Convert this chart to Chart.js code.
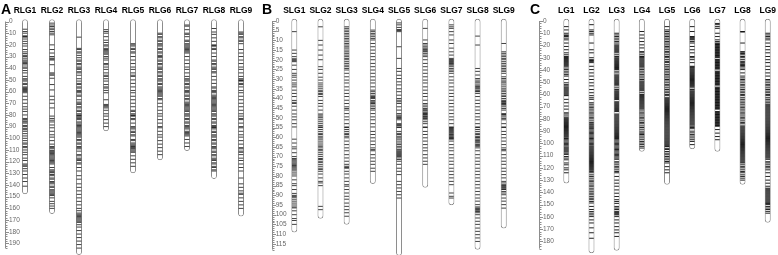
<!DOCTYPE html>
<html>
<head>
<meta charset="utf-8">
<script src="https://cdn.jsdelivr.net/npm/chart.js@4.4.1/dist/chart.umd.min.js"></script>
<style>
  html, body { margin: 0; padding: 0; background: #fff; }
  #wrap { position: relative; width: 778px; height: 255px; overflow: hidden; font-family: "Liberation Sans", Arial, sans-serif; }
  #wrap canvas { position: absolute; top: 0; }
  .tag { position: absolute; top: 2px; font-size: 14px; line-height: 14px; font-weight: bold; color: #000; }
</style>
</head>
<body>
<div id="wrap">
  <canvas id="chartA" width="255" height="255" style="left:0"></canvas>
  <canvas id="chartB" width="260" height="255" style="left:255px"></canvas>
  <canvas id="chartC" width="263" height="255" style="left:515px"></canvas>
  <div class="tag" style="left:1px">A</div>
  <div class="tag" style="left:262px">B</div>
  <div class="tag" style="left:530px">C</div>
</div>
<script>
// ====== data (cM) ======
const rlgNames = ['RLG1','RLG2','RLG3','RLG4','RLG5','RLG6','RLG7','RLG8','RLG9'];
const rlgLengths = [146, 163, 198, 92, 128, 117, 109, 133, 165];
const rlgTicks = [0,10,20,30,40,50,60,70,80,90,100,110,120,130,140,150,160,170,180,190];
const rlgMarkers = [
  [6.6,8.6,10,12.3,12.8,13.4,15,17,19,21,24,26,27.5,29,30,31.4,33,34,35.2,36,37.2,39,40,42,44,47,49,50,51,53,54,56,56.8,57.5,58.3,59,60,61,64,67,70,73,75,77,80,83,84,85.2,86,87,89,90,91.5,92.6,94,96,98,100,102,104,105,107,108,110,112,114,117,119,122,123,124,126,128,131,134,137,141],
  [1.4,3,4.3,5.7,7,8.6,10,11.4,20,24,27,30,31.4,32.2,33,37,44,45,46,48.6,54,58.6,64,67,70,74,81,83,84.5,86,88.6,91,94,97,99,102,105,107,108,109,110.5,111.5,112,113,114,115,116,117,118,119,120,121,122,125,127,128,128.8,129.5,131,132,134,135,137,138,139,141,142,144,145,146,147,148,149,151,154,156,158,160],
  [13.4,23,24,26,27,29,31,33,34,36,37,39,40,41,43,44,46,49,51,53,54,56,57,59,60,61,63,64,67,69,70,71,73,74,76,77,79,80,80.6,81,82,83,84,86,87,88.4,89,90,91,92,93,94,95,96,97,98,99,101,102,104,105,107,108,109,111,114,115,117,118,119,121,122,125,128,132,135,139,142,145,148,151,154,157,160,162,164,165,166,167,168,169,170,171,172,174,176,179,182,185,188,191,194],
  [7,8.6,10,13,16,18,20,21,23,24,25,26,27,28,30,31.4,33,36,37,39,41,44,46,47,49,51,54,56,57,59,61,67,71,72,73,74,76,79,81,84,87,90],
  [19,20,21,23,24,26,27,30,33,36,39,41,44,46,47,50,53,56,59,61,64,67,70,73,76,77,79,80,80.6,81,83,84,87,90,91,92,94,95,97,98,101,102,104,105,106,107,107.6,108.3,109,110,111,112,115,118,121,124],
  [10,11,13,14,16,17,19,20,21,23,24,26,27,29,30,31,33,34,36,37,39,40,41,43,44,46,47,49,50,51,53,54,56,57,58,59,60,61,62,63,64,66,67,70,73,76,79,81,84,87,90,91,94,97,99,102,105,108,111,114],
  [3,4,7,10,11,13,16,17,19,20,21,22,23,24,25,26,27,30,33,36,39,41,44,47,49,50,51,53,54,56,57,59,60,61,63,64,66,67,69,70,71,72,73,74,75,76,77,79,80,81,83,84,86,87,89,90,91,92,94,95,96,97,98,101,104,107],
  [6,9,11,14,17,20,20.8,21,23,24,27,30,33,34,36,37,39,40,41,43,44,47,50,53,56,57,59,60,61,63,64,65,66,67,68,69,70,71,72,73,74,75,76,77,79,80,81,83,84,86,87,89,90,90.6,91,92,94,95,97,98,99,101,102,104,105,107,108,109,111,112,114,115,117,118,119,121,122,124,125,127,128],
  [9,10,11,13,14,16,17,19,24,27,30,33,36,39,41,44,47,49,50,50.6,51,53,54,56,59,61,64,67,70,73,76,79,81,83,84,87,90,91,94,97,99,102,105,108,109,111,112,114,117,119,122,125,128,134,139,142,145,147,148,151,154,157,160]
];

const slgNames = ['SLG1','SLG2','SLG3','SLG4','SLG5','SLG6','SLG7','SLG8','SLG9'];
const slgLengths = [108, 101, 104, 83, 120, 85, 94, 117, 106];
const slgTicks = [0,5,10,15,20,25,30,35,40,45,50,55,60,65,70,75,80,85,90,95,100,105,110,115];
const slgMarkers = [
  [5.5,15,16.7,18.4,19.5,20,20.5,21,22.8,25,27,28,29,30.5,32,33,34,35.7,37.4,39,41,42,42.6,44,46,48,49.5,51,53,54.7,61,63,65,66,68,70,71,71.6,72.2,72.8,73.4,74,74.6,75.2,75.8,76.4,77,78,79,80,82,84,85,87,89,90,90.5,91,92,93,94,95,96,96.5,98,100,102,103,105],
  [3,10,12.4,15,17.6,20,23.6,25,27,29,30.5,32,33,34,35,36,36.5,37.4,38,39,41,42.6,44,46,48,48.6,49.5,50,51,52,53,54,54.7,55,56,57,58,58.6,59.5,60.3,61,62,63,64,64.7,65.5,66.4,67,68,69,70,71,71.5,72.4,73,74,75,76,76.7,77.6,79,81,82.8,83.6,85,95.7,97.4],
  [3,3.8,4.7,5.5,6.4,7.2,8.1,9,9.8,10.7,11.6,12.4,13.3,14,15,15.9,16.7,17.6,18.4,19.3,20,21,21.9,22.8,23.6,24.5,25.3,27,28.8,30.5,32,34,35.7,37.4,39,40.9,42.6,44.3,45.2,46,47.8,49.5,51,53,54.7,55,56,57,58,58.6,59.5,60.3,62,63.8,65.5,67,69,70.7,72.4,74,75,75.6,76,77.6,79,81,82.8,84.5,85.3,87,88.8,90.5,92,94,95.7,97.4,99,100.8],
  [4.7,5.5,6.4,7.2,8.1,9,9.8,11.6,13.3,15,16.7,18.4,20,21.9,23.6,25.3,27,28.8,30.5,32,34,35.7,36.5,37.4,38.3,39,39.5,40,41,41.7,42.2,42.6,43.4,44.3,45.2,46,47.8,49.5,51,53,54.7,57,58.6,60.3,62,63.8,65.5,66.4,67,69,70.7,72.4,74,76,77.6],
  [1,2,3.3,4.4,4.9,5.5,13.3,19.3,24.5,26,28,29.7,31.4,33,35,36.5,38.3,40,40.9,41.7,42.6,44.3,46,47.8,48.6,49.2,49.8,50.3,51,53,53.5,54,54.7,55,57,58,58.6,59.5,60.3,61,62,63,63.8,64.7,65.5,66.4,67,67.5,68,68.5,69,69.5,70,70.7,71.5,72.4,74,76,77.6,79.3,82.8,84.5,86.2,88,89.7,91.4],
  [3.8,9.8,11.6,12.4,13.3,14,14.6,15,15.5,15.9,16.7,17.6,18.4,20,21.9,23.6,25.3,27,28.8,30.5,32,34,35.7,37.4,39,40.9,42.6,43.4,44.3,45.2,45.8,46.3,47,47.5,47.8,48.3,48.6,49.2,49.5,50,50.3,51,52,53,54.7,55,57,58.6,60.3,62,63.8,65.5,67,69,70.7,72.4,74],
  [2,3,3.8,5.5,7.2,9.8,11.6,14,15.9,17.6,19.3,19.8,20.2,20.6,21,21.5,21.9,22.3,22.8,23.6,24.5,25.3,26,27,28.8,30.5,32,34,35.7,37.4,39,40.9,42.6,44.3,46,47.8,49.5,51,53,54.7,55,55.5,56,56.5,57,57.5,58,58.6,59,59.5,60,60.3,60.7,61,62,63.8,65.5,67,69,70.7,72.4,74,76,77.6,79.3,81,82.8,84.5,88.8,90.5,91.4],
  [7.8,12.4,24.5,26,27.9,29.7,30.5,31.4,32,33,33.6,34,34.5,35,35.7,36.2,36.5,37.4,39,40.9,42.6,44.3,46,47.8,49.5,51,53,54.7,55,56,57,58,58.6,59.5,60,60.3,61,61.6,62,62.5,63,63.8,64.2,64.7,65.5,67,69,70.7,72.4,74,76,77.6,79.3,81,82.8,84.5,86.2,88,89.7,91.4,93,94.8,96,96.6,97,97.4,98,98.3,99,100,101.7,103.4,105,106.9,108.6,110.3,112,113.8],
  [11.6,15.9,16.7,17.6,18.4,19.3,20,21,21.9,22.8,23.6,24.5,25.3,26,27,28.8,29.7,30.5,31.4,32,33,34,35,35.7,36.5,37.4,38.3,39,40,40.9,41.4,41.7,42.2,42.6,43,43.4,44.3,45.2,46,47.8,48.3,48.6,49.5,50.3,51,53,54.7,55,57,58.6,60.3,62,63.8,65.5,66.4,67,69,70.7,72.4,74,76,77.6,79.3,81,82.8,83.6,84.5,85,85.3,85.8,86.2,86.7,87,88,88.8,89.7,91.4,93,94.8,96.6]
];

const lgNames = ['LG1','LG2','LG3','LG4','LG5','LG6','LG7','LG8','LG9'];
const lgLengths = [131, 188, 186, 105, 132, 103, 105, 132, 163];
const lgTicks = [0,10,20,30,40,50,60,70,80,90,100,110,120,130,140,150,160,170,180];
const lgMarkers = [
  [4.6,7.3,10,11.4,12,12.7,14,15.4,18,20.8,23.5,26,27.6,29,29.8,30.6,31.4,32.2,33,33.8,34.6,35.4,36.2,37,38.4,39.7,41,42.4,43.8,45,47.8,50.5,52,53,54,54.8,55.6,56.4,57.2,58,58.8,59.6,60.4,61,64,66.8,69.5,72,75,76,77.6,79,79.8,80.6,81.4,82.2,83,83.8,84.6,85.4,86.2,87,87.8,88.6,89.4,90.2,91,91.8,92.6,93.4,94.2,95,96,97,98,99,100,101,102,103,103.8,104.6,105.4,106.2,107,108,109,110.7,112,113.4,116,117.5,120,121.6,124],
  [3,7.3,8.6,10,11.4,18,23.5,26,30,31.6,32.3,33,34,37,39.7,42.4,45,47.8,50.5,53,56,58.6,61,62.7,64,66.8,68,69.5,70.8,72,73.5,75,76,77.6,79,80,81.6,83,84,84.8,85.7,86.5,87.3,88,89,90,91,92,93,94,95,96,97,98,99,100,101,102,102.8,103.6,104.4,105.2,106,106.8,107.6,108.4,109.2,110,110.8,111.6,112.4,113.2,114,114.8,115.6,116.4,117.2,118,118.8,119.6,120.4,121.2,122,123,124,125.7,127,128.4,130,131,132.4,134,135,136.6,138,139.5,140.7,142,143.5,144.8,146,147.5,148.7,151.5,154,155.7,157,158.4,159.8,162.5,165,169,173,177.5],
  [10,11.4,12.7,14,15.4,16.8,18,19.5,20.3,21.1,21.9,22.7,23.5,24.3,25.1,26,27.6,29,30,30.8,31.6,32.4,33.2,34,34.8,35.6,36.4,37.2,38,38.8,39.6,41,42.4,44,44.8,45.6,46.4,47.2,48,48.8,49.6,50.4,51.2,52,53,54.6,56,57,57.8,58.6,59.4,60.2,61,61.8,62.6,63.4,64.2,66,66.8,67.6,68.4,69.2,70,70.8,71.6,72.4,73.2,74,76,76.8,77.6,78.4,79.2,80,80.8,81.6,82.4,83.2,84,84.8,85.6,86.4,87.2,88,88.8,89.6,90.4,91.2,92,92.8,93.6,94.4,95.2,96,97,98,99,100,101,102,103,104,105,106,107,108,109,110,111,112,113,115,116,117.5,119,120,121.6,123,124,127,130,132.5,135,138,140.7,143.4,146,147.5,149,151.5,152.8,154,155.5,156.3,157,157.7,158.4,159.8,162.5,165,168,170.7,173,176],
  [8.6,11.4,14,16.8,19.5,22,25,26,27.6,29,29.6,30.2,31,31.8,32.6,33.4,34.2,35,35.8,36.6,37.4,38.4,39.7,41,42.4,43.8,45,46.5,47.8,49,49.8,50.6,51.4,52.2,53,53.8,54.6,55.4,56.2,57,58.6,60,60.8,61.6,62.4,63.2,64,64.8,65.6,66.4,67.2,68,68.8,69.6,70.4,71.2,72,73.5,75,76,77.6,79,80,81.6,83,84,85.7,87,88.4,90,91.4,92.3,92.8,94,95.5,97,98.4,99.7,101,102.4,103.8],
  [4.6,7.3,8.6,10,11.4,12.7,14,15.4,16.8,18,19.5,20.8,22,23.5,25,26,27.6,29,30,31.6,33,34,35.7,37,38.4,39.7,41,42.4,43.8,45,46.5,47.8,49,50.5,52,53,54.6,56,57.3,58.6,60,61,62.7,63.5,64.3,65.1,65.9,66.7,67.5,68.3,69.1,69.9,70.7,71.5,72.3,73.1,73.9,74.7,75.5,76.3,77.1,77.9,78.7,79.5,80.3,81.1,81.9,82.7,83.5,84.3,85.1,85.9,86.7,87.5,88.3,89.1,89.9,90.7,91.5,92.3,93.1,93.9,94.7,95.5,96.3,97.1,97.9,98.7,99.5,100.3,101.1,101.9,102.5,104,105,106.6,108,109.3,110.7,112,113.4,114.8,116,119,121.6,124],
  [4.6,8.6,12.7,13.3,14,14.7,15.4,16.8,18,20.8,23.5,26,29,30,31.6,34,37,37.6,38.2,39,39.8,40.6,41.4,42.2,43,43.8,44.6,45.4,46.2,47,47.8,48.6,49.4,50.2,51,51.8,52.6,53.4,54.6,56,57,57.8,58.6,59.4,60.2,61,61.8,62.6,63.4,64.2,65,65.8,66.6,67.4,68.2,69,69.8,70.6,71.4,72.2,73,73.8,74.6,75.4,76.2,77,77.8,78.6,79.4,80.2,81,81.8,82.6,83.4,84.2,85,86,87,88,90,91.4,92.8,94,95.5,97,98.4,101],
  [2,3,4.6,6,10,12.7,15.4,16.8,18,18.6,19.2,19.8,20.4,21,21.6,22.2,22.8,23.4,24,24.6,25.2,25.8,26.4,27,27.6,28.2,28.8,29.4,30,31.5,32.1,32.7,33.3,33.9,34.5,35.1,35.7,36.3,36.9,37.5,38.1,38.7,39.3,41,41.6,42.2,42.8,43.4,44,44.6,45.2,45.8,46.4,47,47.6,48.2,48.8,49.4,50,50.6,51.2,51.8,52.4,54,54.6,55.2,55.8,56.4,57,57.6,58.2,58.8,59.4,60,60.6,61.2,61.8,62.4,63,63.6,64.2,64.8,65.4,66,66.6,67.2,67.8,68.4,69,69.6,70.2,70.8,71.4,72,74,74.6,75.2,75.8,76.4,77,77.6,78.2,78.8,79.4,80,80.6,81.2,81.8,82.4,83,83.6,84.2,84.8,85.4,86,88.7,91.6,94.4,97],
  [8.6,9,18,25,26,26.5,27.6,29,30,31.6,33,34,35,35.7,36.3,37,38.4,39.7,42.4,45,46.5,47.8,49,50.5,52,53,54.6,56,57.3,58.6,60,61,62.7,64,65.4,66.8,68,69.5,70.8,72,73.5,75,76,77.6,79,80,81.6,83,84,85.7,86.5,87.3,88.1,88.9,89.7,90.5,91.3,92.1,92.9,93.7,94.5,95.3,96.1,96.9,97.7,98.5,99.3,100.1,100.9,101.7,102.5,103.3,104.1,104.9,105.7,106.5,107.3,108.1,108.9,109.7,110.5,111.3,112.1,112.9,113.7,114.5,115.3,116,117.5,119,120,121.6,123,124,125.7,127,128.4,130],
  [10,11.4,12.7,14,15.4,18,20.8,23.5,26,29,31.6,34,37,39.7,42.4,45,47.8,49,50.5,52,53,54.6,56,57.3,58.6,60,61,62.7,64,65.4,66.8,68,68.8,69.6,70.4,71.2,72,72.8,73.6,74.4,75.2,76,76.8,77.6,78.4,79.2,80,80.8,81.6,82.4,83.2,84,84.8,85.6,86.4,87.2,88,88.8,89.6,90.4,91.2,92,92.8,93.6,94.4,95.2,96,96.8,97.6,98.4,99.2,100,100.8,101.6,102.4,103.2,104,104.8,105.6,106.4,107.2,108,108.8,109.6,110.4,111.2,112,113,115,116,117.5,119,120,121.6,124,127,130,132.5,135,136.6,137.4,138.2,139,139.8,140.6,141.4,142.2,143,143.8,144.6,145.4,146.2,147,147.8,148.6,149,150,151.5,152.8,154,155.5,157]
];

(function () {
  const FONT = '"Liberation Sans Narrow", "Liberation Sans", Arial, sans-serif';

  // ====== ruler on the left (axis line + minor/major ticks pointing right) ======
  const rulerPlugin = {
    id: 'ruler',
    afterDraw(chart, args, opts) {
      const {ctx, chartArea} = chart;
      const ys = chart.scales.y;
      const x0 = Math.round(chartArea.left) + 0.5;
      ctx.save();
      ctx.strokeStyle = '#8d8d8d';
      ctx.lineWidth = 1;
      ctx.beginPath();
      ctx.moveTo(x0, ys.getPixelForValue(0));
      ctx.lineTo(x0, ys.getPixelForValue(opts.end));
      for (let v = 0; v <= opts.end + 1e-6; v += opts.minor) {
        const py = Math.round(ys.getPixelForValue(v)) + 0.5;
        const len = Math.abs(v % opts.major) < 1e-6 ? 3.5 : 2;
        ctx.moveTo(x0, py);
        ctx.lineTo(x0 + len, py);
      }
      ctx.stroke();
      ctx.restore();
    }
  };

  function drawPanel(id, names, lengths, markers, ticks, cfg) {
    const cap = 2.2 / cfg.pxPerUnit;
    const chromosomes = names.map((n, i) => ({x: i + 1, y: [-cap, lengths[i] + cap]}));
    const marks = [];
    markers.forEach((list, i) => list.forEach(v => marks.push({x: i + 1, y: v})));
    const ink = `rgba(0,0,0,${cfg.ink})`;

    const chart = new Chart(document.getElementById(id), {
      type: 'bar',
      data: {
        datasets: [
          {
            type: 'scatter',
            data: marks,
            pointStyle: 'line',
            pointRadius: 2.3,
            pointBorderWidth: 1,
            pointBorderColor: ink,
            borderColor: ink,
            order: 1,
            clip: false
          },
          {
            type: 'bar',
            data: chromosomes,
            backgroundColor: '#fff',
            borderColor: '#8c8c8c',
            borderWidth: 1,
            borderRadius: 3,
            borderSkipped: false,
            barThickness: 6,
            inflateAmount: 0,
            order: 2,
            clip: false
          }
        ]
      },
      options: {
        responsive: false,
        animation: false,
        events: [],
        layout: { padding: { top: 5, left: cfg.left, right: 0, bottom: 0 } },
        plugins: {
          legend: { display: false },
          tooltip: { enabled: false },
          ruler: { end: cfg.rulerEnd, minor: cfg.minor, major: cfg.major }
        },
        scales: {
          x: {
            type: 'linear',
            position: 'top',
            offset: false,
            min: 0,
            max: 10,
            grid: { display: false, drawTicks: false },
            border: { display: false },
            afterBuildTicks: s => { s.ticks = names.map((n, i) => ({value: i + 1})); },
            afterFit: s => { s.height = 12; s.paddingLeft = 0; s.paddingRight = 0; },
            ticks: {
              autoSkip: false,
              maxRotation: 0,
              padding: 2.5,
              color: '#000',
              font: { family: FONT, size: 8.5, weight: 'bold', lineHeight: 1 },
              callback: v => names[v - 1] ?? ''
            }
          },
          y: {
            type: 'linear',
            reverse: true,
            min: 0,
            max: 200,
            grid: { display: false, drawTicks: false },
            border: { display: false },
            afterBuildTicks: s => { s.ticks = ticks.map(v => ({value: v})); },
            afterFit: s => { s.width = 0; s.paddingTop = 0; s.paddingBottom = 0; },
            ticks: {
              mirror: true,
              autoSkip: false,
              padding: 4,
              color: '#666',
              font: { family: FONT, size: 6.5, lineHeight: 1 }
            }
          }
        }
      },
      plugins: [rulerPlugin]
    });

    // fit the scale ranges to the laid-out chart area so 0 cM and column 1 land where the figure has them
    const area = chart.chartArea;
    const xs = chart.options.scales.x, ys = chart.options.scales.y;
    xs.min = 1 - (cfg.firstCol - area.left) / cfg.colStep;
    xs.max = xs.min + (area.right - area.left) / cfg.colStep;
    ys.min = (area.top - cfg.zeroPx) / cfg.pxPerUnit;
    ys.max = (area.bottom - cfg.zeroPx) / cfg.pxPerUnit;
    chart.update();
    return chart;
  }

  // ====== panels ======
  drawPanel('chartA', rlgNames, rlgLengths, rlgMarkers, rlgTicks, {
    left: 5, firstCol: 25, colStep: 27,
    zeroPx: 21.5, pxPerUnit: 1.168, ink: 0.75,
    rulerEnd: 194, minor: 2, major: 10
  });
  drawPanel('chartB', slgNames, slgLengths, slgMarkers, slgTicks, {
    left: 16.7, firstCol: 39.3, colStep: 26.18,
    zeroPx: 21, pxPerUnit: 1.937, ink: 0.75,
    rulerEnd: 118, minor: 1, major: 5
  });
  drawPanel('chartC', lgNames, lgLengths, lgMarkers, lgTicks, {
    left: 24, firstCol: 51.3, colStep: 25.18,
    zeroPx: 21, pxPerUnit: 1.224, ink: 0.88,
    rulerEnd: 186, minor: 2, major: 10
  });
})();
</script>
</body>
</html>
